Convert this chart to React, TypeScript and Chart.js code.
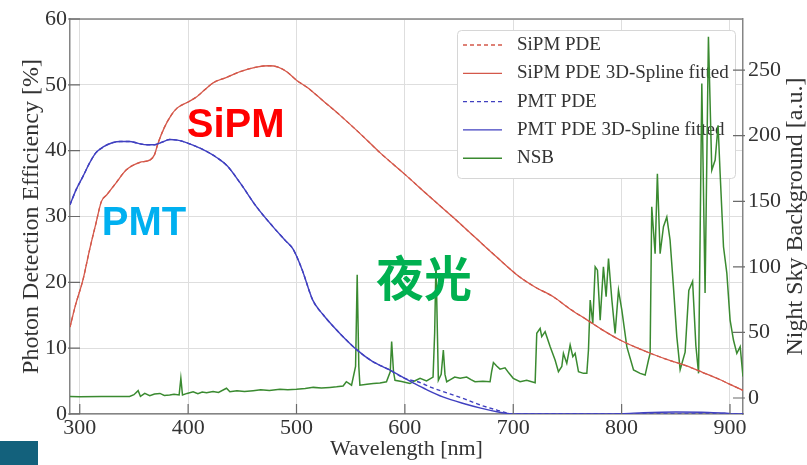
import React, { useEffect, useRef } from 'react';
import { Chart, registerables } from 'chart.js';

Chart.register(...registerables);

// ---------- data ----------
// SiPM PDE (3D-spline fitted), wavelength [nm] -> PDE [%]
const sipmWl = [291, 296, 303, 309, 315, 320, 325, 333, 343, 355, 365, 369, 372, 378, 384, 390, 400, 408, 415, 423, 435, 448, 463, 475, 483, 491, 500, 510, 525, 540, 558, 577, 600, 623, 645, 665, 685, 706, 720, 737, 752, 768, 783, 799, 815, 830, 845, 860, 875, 891, 900, 912];
const sipmPde = [13.2, 16.5, 20.4, 24.9, 29, 32.3, 33.3, 35, 37.1, 38.2, 38.6, 39.4, 41, 43.5, 45.3, 46.5, 47.4, 48.2, 49.2, 50.3, 51.1, 52, 52.7, 52.9, 52.7, 52, 50.7, 49.6, 47.5, 45.4, 42.7, 39.7, 36.4, 33, 29.8, 26.8, 23.8, 20.8, 19.3, 17.8, 16, 14.3, 12.7, 11.2, 10.0, 9.0, 8.1, 7.3, 6.3, 5.2, 4.5, 3.6];

// PMT PDE (3D-spline fitted)
const pmtWl = [291, 297, 303, 309, 315, 322, 330, 338, 346, 354, 362, 369, 376, 383, 390, 395, 405, 417, 426, 436, 448, 463, 478, 490, 497, 505, 515, 525, 534, 545, 556, 570, 586, 600, 608, 620, 635, 654, 670, 685, 694, 700, 760, 800, 820, 850, 880, 895, 905, 912];
const pmtPde = [31.8, 34.2, 36.1, 38.1, 39.7, 40.6, 41.2, 41.4, 41.4, 41.1, 40.9, 40.9, 41.3, 41.7, 41.6, 41.4, 40.8, 39.9, 39.0, 37.7, 35.1, 31.5, 28.5, 26.3, 25.0, 22.0, 17.3, 15.0, 13.3, 11.4, 9.7, 8.0, 6.7, 5.4, 4.7, 3.7, 2.6, 1.6, 0.9, 0.35, 0.1, 0, 0, 0.05, 0.2, 0.3, 0.25, 0.15, 0, 0];

// PMT PDE (measured) — follows the fit up to 600 nm, then this tail
const pmtMeasTailWl = [612, 625, 639, 655, 669, 685, 697, 700, 800, 912];
const pmtMeasTailPde = [4.9, 4.0, 3.2, 2.3, 1.4, 0.6, 0.05, 0, 0, 0];

// Night sky background [a.u.]
const nsbWl = [291, 300, 320, 346, 350, 353.9, 356, 360, 364.6, 369, 374, 378, 383, 387, 391.7, 393.3, 394.8, 399, 404.6, 409, 413, 417, 423, 428, 435.4, 438.5, 445, 452, 460, 467, 475, 484.7, 492, 500, 508, 515.5, 523, 530.8, 537, 543, 546, 550.8, 554.5, 556, 557.5, 558.5, 565, 570.8, 577, 583, 586.5, 587.8, 589.5, 590.9, 597, 604.7, 609, 614, 620, 626, 627.5, 628.7, 630, 630.9, 633.5, 635.5, 637, 638.6, 642, 646, 651, 657, 661, 664.7, 672, 678.6, 680, 681.7, 684.7, 687.8, 692.4, 696, 700, 706.3, 712.4, 720.2, 721.7, 724.8, 726.3, 729.4, 734, 738.6, 741.7, 744.8, 746.3, 749.4, 752.5, 755, 757.1, 760.2, 764.8, 767.9, 769.4, 771, 773.4, 775.6, 777.7, 780.2, 783.2, 785.7, 787.9, 791, 794, 797.1, 800.2, 804.8, 811, 817.1, 821.7, 824.8, 826.3, 827.8, 830.9, 833, 835.5, 838.6, 841.7, 844.7, 847.8, 850.9, 854, 858.6, 862, 865.5, 868.5, 871, 874, 877, 880.1, 883.2, 886.3, 889, 890.9, 894, 897.1, 900.1, 903.2, 906.3, 909.4, 912];
const nsbVal = [1.2, 1.0, 1.2, 1.2, 2.5, 5.6, 1.2, 3.5, 1.8, 3.0, 3.5, 2.0, 2.3, 2.8, 2.3, 15, 2.3, 3.5, 4.8, 3.2, 4.5, 4.0, 5.0, 4.2, 7.4, 4.8, 5.6, 5.0, 5.6, 6.2, 5.8, 6.6, 6.3, 6.6, 7.2, 8.1, 7.6, 8.1, 8.6, 9.2, 12.4, 9.8, 24, 94, 24, 9.8, 10.5, 11, 11.5, 12.4, 20, 43, 20, 13.5, 12.5, 11, 13, 15, 13, 16, 50, 104, 50, 13.5, 18, 36.6, 18, 12.4, 14, 16, 15, 16, 14, 12.4, 12.8, 12.4, 20, 27, 24.4, 22, 23, 19, 15, 12.4, 13.5, 11.6, 49.3, 53.1, 46.8, 50.6, 39.2, 29, 20.1, 24, 34, 26.4, 40.4, 31.5, 34, 20.1, 18.8, 18.8, 36.6, 74.7, 56.9, 100, 97.5, 59.4, 100, 77.2, 106.4, 74.7, 49.3, 82.3, 67, 39.2, 21.4, 18.8, 17.5, 29, 34, 145.8, 110, 171, 110, 130.6, 138, 120.4, 84.9, 47, 21.6, 35, 82, 89, 40, 18.8, 239.9, 80, 275.4, 173.7, 181.4, 208, 171.2, 115.3, 95, 59.4, 44.2, 34, 39.1, 16.3];

// axis ranges and tick values
const xMin = 291, xMax = 912;
const xTicks = [300, 400, 500, 600, 700, 800, 900];
const pdeMin = 0, pdeMax = 60;
const pdeTicks = [0, 10, 20, 30, 40, 50, 60];
const nsbMin = -12.2, nsbMax = 289;
const nsbTicks = [0, 50, 100, 150, 200, 250];

// overlay annotations (anchored in wavelength / PDE coordinates)
const annoText = ['SiPM', 'PMT', '夜光'];
const annoWl = [398.8, 320.3, 573.3];
const annoPde = [42.1, 27.2, 17.9];

// ---------- styles ----------
const SERIF = "'Liberation Serif', 'Times New Roman', serif";
const RED = '#d4584a';
const BLUE = '#4040c0';
const GREEN = '#3a8a30';
const annoColor = ['#ff0000', '#00b0f0', '#00b050'];
const annoFont = [
  "bold 40px 'Liberation Sans', Arial, sans-serif",
  "bold 40px 'Liberation Sans', Arial, sans-serif",
  "bold 48px 'Noto Sans CJK SC', sans-serif",
];

const zip = (xs: number[], ys: number[]) => xs.map((x, i) => ({ x, y: ys[i] }));
const pmtMeasPoints = [
  ...zip(pmtWl, pmtPde).filter((p) => p.x <= 600),
  ...zip(pmtMeasTailWl, pmtMeasTailPde),
];
const fixedTicks = (vals: number[]) => (s: any) => {
  s.ticks = vals.map((value) => ({ value }));
};

const frameTicks = {
  id: 'frameTicks',
  afterDatasetsDraw(chart: any) {
    const { ctx, chartArea: a, scales } = chart;
    ctx.save();
    ctx.strokeStyle = '#858585';
    ctx.lineWidth = 1.5;
    ctx.beginPath();
    ctx.moveTo(a.left, a.top);
    ctx.lineTo(a.right, a.top);
    ctx.stroke();
    ctx.strokeStyle = '#6a6a6a';
    ctx.lineWidth = 1.2;
    ctx.beginPath();
    scales.x.ticks.forEach((t: any) => {
      const px = scales.x.getPixelForValue(t.value);
      ctx.moveTo(px, a.bottom);
      ctx.lineTo(px, a.bottom - 10);
    });
    scales.y.ticks.forEach((t: any) => {
      const py = scales.y.getPixelForValue(t.value);
      ctx.moveTo(a.left - 2, py);
      ctx.lineTo(a.left + 10, py);
    });
    scales.y1.ticks.forEach((t: any) => {
      const py = scales.y1.getPixelForValue(t.value);
      ctx.moveTo(a.right + 2, py);
      ctx.lineTo(a.right - 10, py);
    });
    ctx.stroke();
    ctx.restore();
  },
};

const legendBox = {
  id: 'legendBox',
  beforeDatasetsDraw(chart: any) {
    const { ctx, chartArea: a } = chart;
    const left = a.right - 286;
    const top = a.top + 11;
    const w = 278;
    const h = 148;
    ctx.save();
    ctx.fillStyle = '#ffffff';
    ctx.strokeStyle = '#d6d6d6';
    ctx.lineWidth = 1;
    ctx.beginPath();
    ctx.roundRect(left + 0.5, top + 0.5, w, h, 4);
    ctx.fill();
    ctx.stroke();
    ctx.font = `19px ${SERIF}`;
    ctx.textBaseline = 'middle';
    ctx.textAlign = 'left';
    chart.data.datasets.forEach((ds: any, i: number) => {
      const y = top + 15 + i * 28.3;
      ctx.strokeStyle = ds.borderColor;
      ctx.lineWidth = ds.borderWidth;
      ctx.setLineDash(ds.borderDash || []);
      ctx.beginPath();
      ctx.moveTo(left + 6, y);
      ctx.lineTo(left + 45, y);
      ctx.stroke();
      ctx.setLineDash([]);
      ctx.fillStyle = '#333';
      ctx.fillText(ds.label, left + 60, y);
    });
    ctx.restore();
  },
};

const overlays = {
  id: 'overlays',
  afterDraw(chart: any) {
    const { ctx, chartArea: a, scales } = chart;
    ctx.save();
    // right axis title (reads bottom to top)
    ctx.translate(scales.y1.right - 11, (a.top + a.bottom) / 2);
    ctx.rotate(-Math.PI / 2);
    ctx.font = `24px ${SERIF}`;
    ctx.fillStyle = '#333';
    ctx.textAlign = 'center';
    ctx.textBaseline = 'middle';
    ctx.fillText('Night Sky Background [a.u.]', 0, 0);
    ctx.restore();

    ctx.save();
    ctx.textAlign = 'left';
    ctx.textBaseline = 'alphabetic';
    annoText.forEach((t, i) => {
      ctx.font = annoFont[i];
      ctx.fillStyle = annoColor[i];
      ctx.fillText(t, scales.x.getPixelForValue(annoWl[i]), scales.y.getPixelForValue(annoPde[i]));
    });
    ctx.restore();
  },
};

export default function App() {
  const ref = useRef<HTMLCanvasElement>(null);
  useEffect(() => {
    const canvas = ref.current;
    if (!canvas) return;
    const tickFont = { family: SERIF, size: 22 };
    const chart = new Chart(canvas, {
      type: 'line',
      data: {
        datasets: [
          {
            label: 'SiPM PDE',
            data: zip(sipmWl, sipmPde),
            borderColor: RED,
            borderWidth: 1.3,
            borderDash: [4, 3],
            yAxisID: 'y',
            cubicInterpolationMode: 'monotone',
            order: 3,
          },
          {
            label: 'SiPM PDE 3D-Spline fitted',
            data: zip(sipmWl, sipmPde),
            borderColor: RED,
            borderWidth: 1.3,
            yAxisID: 'y',
            cubicInterpolationMode: 'monotone',
            order: 1,
          },
          {
            label: 'PMT PDE',
            data: pmtMeasPoints,
            borderColor: BLUE,
            borderWidth: 1.4,
            borderDash: [4, 3],
            yAxisID: 'y',
            cubicInterpolationMode: 'monotone',
            order: 2,
          },
          {
            label: 'PMT PDE 3D-Spline fitted',
            data: zip(pmtWl, pmtPde),
            borderColor: BLUE,
            borderWidth: 1.4,
            yAxisID: 'y',
            cubicInterpolationMode: 'monotone',
            order: 0,
          },
          {
            label: 'NSB',
            data: zip(nsbWl, nsbVal),
            borderColor: GREEN,
            borderWidth: 1.5,
            yAxisID: 'y1',
            tension: 0,
            order: 5,
          },
        ] as any,
      },
      options: {
        responsive: false,
        animation: false,
        parsing: false as any,
        layout: { padding: { top: 19, left: 0, right: 0, bottom: 0 } },
        elements: { point: { radius: 0 } },
        plugins: { legend: { display: false }, tooltip: { enabled: false } },
        scales: {
          x: {
            type: 'linear',
            min: xMin,
            max: xMax,
            afterBuildTicks: fixedTicks(xTicks),
            grid: { color: '#dedede', lineWidth: 1, drawTicks: false },
            border: { display: true, color: '#858585', width: 1.5 },
            ticks: {
              autoSkip: false,
              maxRotation: 0,
              padding: 1,
              color: '#333',
              font: tickFont,
            },
            title: {
              display: true,
              text: 'Wavelength [nm]',
              color: '#333',
              font: { family: SERIF, size: 22 },
              padding: { top: 0, bottom: 3 },
            },
            afterFit: (s: any) => {
              s.height = 51;
            },
          },
          y: {
            type: 'linear',
            position: 'left',
            min: pdeMin,
            max: pdeMax,
            afterBuildTicks: fixedTicks(pdeTicks),
            grid: { color: '#dedede', lineWidth: 1, drawTicks: false },
            border: { display: true, color: '#858585', width: 1.5 },
            ticks: {
              autoSkip: false,
              padding: 3,
              color: '#333',
              font: tickFont,
            },
            title: {
              display: true,
              text: 'Photon Detection Efficiency [%]',
              color: '#333',
              font: { family: SERIF, size: 24 },
              padding: { top: 17, bottom: 0 },
            },
            afterFit: (s: any) => {
              s.width = 70;
            },
          },
          y1: {
            type: 'linear',
            position: 'right',
            min: nsbMin,
            max: nsbMax,
            afterBuildTicks: fixedTicks(nsbTicks),
            grid: { display: false, drawTicks: false },
            border: { display: true, color: '#858585', width: 1.5 },
            ticks: {
              autoSkip: false,
              padding: 5,
              color: '#333',
              font: tickFont,
            },
            afterFit: (s: any) => {
              s.width = 64;
            },
          },
        } as any,
      },
      plugins: [legendBox, frameTicks, overlays],
    });
    return () => chart.destroy();
  }, []);

  return (
    <div
      style={{
        position: 'fixed',
        left: 0,
        top: 0,
        width: 807,
        height: 465,
        background: '#ffffff',
        overflow: 'hidden',
      }}
    >
      <canvas ref={ref} width={807} height={465} style={{ display: 'block', width: 807, height: 465 }} />
      <div style={{ position: 'absolute', left: 0, top: 441, width: 38, height: 24, background: '#13617c' }} />
    </div>
  );
}
